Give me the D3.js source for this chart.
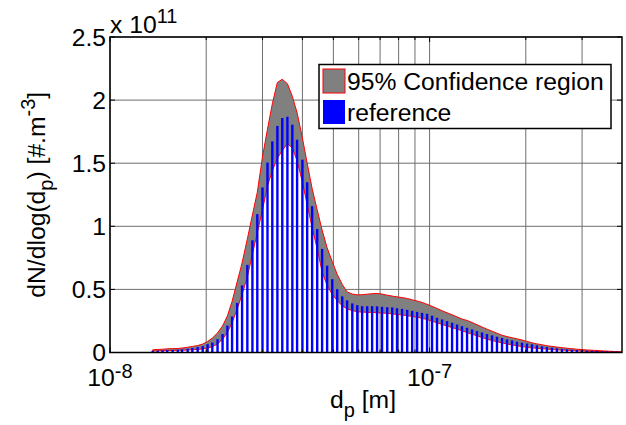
<!DOCTYPE html>
<html>
<head>
<meta charset="utf-8">
<script src="https://cdn.jsdelivr.net/npm/d3@7"></script>
<style>
html,body{margin:0;padding:0;background:#fff;}
svg{display:block;font-family:"Liberation Sans",Arial,Helvetica,sans-serif;}
</style>
</head>
<body>
<svg id="chart" width="626" height="425"></svg>
<script>
// particle diameters (nm), 64 channels per decade
const diameters = [13.6,14.1,14.6,15.1,15.7,16.3,16.8,17.5,18.1,18.8,19.5,20.2,20.9,21.7,22.5,23.3,24.1,25.0,25.9,26.9,
27.9,28.9,30.0,31.1,32.2,33.4,34.6,35.9,37.2,38.5,40.0,41.4,42.9,44.5,46.1,47.8,49.6,51.4,53.3,55.2,
57.3,59.4,61.5,63.8,66.1,68.5,71.0,73.7,76.4,79.1,82.0,85.1,88.2,91.4,94.7,98.2,101.8,105.5,109.4,113.4,
117.6,121.9,126.3,131.0,135.8,140.7,145.9,151.2,156.8,162.5,168.5,174.7,181.1,187.7,194.6,201.7,209.1,216.7,224.7,232.9,
241.4,250.3,259.5,269.0,278.8,289.0,299.6,310.6,322.0,333.8,346.0,358.7,371.8,385.4,399.5];

// reference distribution dN/dlog(dp), units of 1e11 #/m^3
const reference = [0.013,0.015,0.017,0.019,0.021,0.023,0.025,0.030,0.036,0.043,0.051,0.066,0.079,0.106,0.146,0.213,0.285,0.393,0.532,0.694,
0.889,1.096,1.308,1.505,1.673,1.795,1.858,1.868,1.805,1.686,1.528,1.349,1.160,0.978,0.821,0.688,0.581,0.502,0.445,0.413,
0.389,0.375,0.367,0.367,0.367,0.366,0.362,0.359,0.357,0.351,0.346,0.338,0.330,0.322,0.314,0.307,0.291,0.275,0.262,0.249,
0.236,0.222,0.209,0.196,0.183,0.170,0.159,0.146,0.136,0.125,0.115,0.104,0.096,0.086,0.078,0.071,0.065,0.057,0.049,0.043,
0.038,0.033,0.028,0.025,0.022,0.020,0.017,0.014,0.013,0.012,0.010,0.009,0.008,0.007,0.006];

// 95% confidence bounds, units of 1e11 #/m^3
const upperBound = [0.021,0.024,0.026,0.029,0.031,0.032,0.035,0.042,0.048,0.055,0.067,0.088,0.114,0.155,0.210,0.290,0.405,0.560,0.710,0.900,
1.090,1.270,1.550,1.770,1.970,2.140,2.165,2.130,2.030,1.900,1.700,1.500,1.300,1.130,0.970,0.830,0.720,0.620,0.540,0.480,
0.463,0.457,0.458,0.462,0.466,0.468,0.463,0.454,0.447,0.441,0.435,0.428,0.418,0.408,0.397,0.382,0.366,0.349,0.331,0.315,
0.299,0.282,0.265,0.254,0.238,0.220,0.202,0.185,0.169,0.153,0.137,0.126,0.117,0.108,0.099,0.088,0.077,0.068,0.061,0.054,
0.048,0.043,0.038,0.034,0.030,0.026,0.023,0.020,0.018,0.016,0.013,0.011,0.009,0.007,0.006];

const lowerBound = [0.012,0.013,0.014,0.015,0.016,0.017,0.018,0.020,0.022,0.024,0.028,0.036,0.045,0.068,0.105,0.160,0.235,0.345,0.460,0.600,
0.780,0.950,1.130,1.320,1.440,1.540,1.600,1.655,1.620,1.520,1.350,1.170,0.990,0.820,0.640,0.530,0.460,0.410,0.370,0.345,
0.332,0.323,0.320,0.318,0.317,0.315,0.313,0.310,0.306,0.302,0.297,0.292,0.286,0.280,0.271,0.261,0.248,0.236,0.222,0.210,
0.197,0.185,0.172,0.158,0.145,0.132,0.119,0.105,0.095,0.086,0.076,0.068,0.060,0.053,0.047,0.041,0.037,0.033,0.030,0.027,
0.024,0.021,0.019,0.017,0.015,0.013,0.012,0.010,0.009,0.008,0.007,0.006,0.005,0.004,0.004];

const yTicks = [0, 0.5, 1, 1.5, 2, 2.5];
const yTickLabels = ["0", "0.5", "1", "1.5", "2", "2.5"];
const xMajorTicks = [1e-8, 1e-7];
const xMajorExp = ["-8", "-7"];
const xMinorTicks = [2e-8,3e-8,4e-8,5e-8,6e-8,7e-8,8e-8,9e-8,2e-7,3e-7];
const legendLabels = ["95% Confidence region", "reference"];

const svg = d3.select("#chart");
const L = 110, R = 622, T = 37, B = 352.5;
const x = d3.scaleLog().domain([1e-8, 4e-7]).range([L, R]);
const y = d3.scaleLinear().domain([0, 2.5]).range([B, T]);
const FS = 24.7, FSS = 20;

svg.append("rect").attr("width", 626).attr("height", 425).attr("fill", "#fff");

svg.append("defs").append("clipPath").attr("id", "clip")
  .append("rect").attr("x", L).attr("y", T).attr("width", R - L).attr("height", B - T);

// grid
const grid = svg.append("g").attr("stroke", "#6e6e6e").attr("stroke-width", 1);
xMinorTicks.concat(xMajorTicks).forEach(v => {
  grid.append("line").attr("x1", x(v)).attr("x2", x(v)).attr("y1", T).attr("y2", B);
});
yTicks.forEach(v => {
  grid.append("line").attr("x1", L).attr("x2", R).attr("y1", y(v)).attr("y2", y(v));
});

const plot = svg.append("g").attr("clip-path", "url(#clip)");

// confidence region
const pts = diameters.map((d, i) => [x(d * 1e-9), y(upperBound[i])])
  .concat(diameters.map((d, i) => [x(d * 1e-9), y(lowerBound[i])]).reverse());
plot.append("path")
  .attr("d", d3.line()(pts) + "Z")
  .attr("fill", "#808080")
  .attr("stroke", "#ff0000")
  .attr("stroke-width", 1)
  .attr("stroke-linejoin", "round");

// reference bars
const bw = 2.4;
plot.selectAll("rect.bar").data(diameters).enter().append("rect")
  .attr("class", "bar")
  .attr("x", d => x(d * 1e-9) - bw / 2)
  .attr("width", bw)
  .attr("y", (d, i) => y(reference[i]))
  .attr("height", (d, i) => y(0) - y(reference[i]))
  .attr("fill", "#0000ff");

// axes box + ticks
const ax = svg.append("g").attr("stroke", "#000");
ax.append("rect").attr("x", L).attr("y", T).attr("width", R - L).attr("height", B - T)
  .attr("fill", "none").attr("stroke-width", 1.5);
yTicks.forEach(v => {
  ax.append("line").attr("x1", L).attr("x2", L + 5).attr("y1", y(v)).attr("y2", y(v)).attr("stroke-width", 1);
  ax.append("line").attr("x1", R).attr("x2", R - 5).attr("y1", y(v)).attr("y2", y(v)).attr("stroke-width", 1);
});
xMajorTicks.forEach(v => {
  ax.append("line").attr("x1", x(v)).attr("x2", x(v)).attr("y1", B).attr("y2", B - 5).attr("stroke-width", 1);
  ax.append("line").attr("x1", x(v)).attr("x2", x(v)).attr("y1", T).attr("y2", T + 5).attr("stroke-width", 1);
});
xMinorTicks.forEach(v => {
  ax.append("line").attr("x1", x(v)).attr("x2", x(v)).attr("y1", B).attr("y2", B - 3).attr("stroke-width", 1);
  ax.append("line").attr("x1", x(v)).attr("x2", x(v)).attr("y1", T).attr("y2", T + 3).attr("stroke-width", 1);
});

// y tick labels
yTicks.forEach((v, i) => {
  svg.append("text").attr("x", L - 4).attr("y", y(v)).attr("dy", "0.35em")
    .attr("text-anchor", "end").attr("font-size", FS).text(yTickLabels[i]);
});

// x tick labels
xMajorTicks.forEach((v, i) => {
  const t = svg.append("text").attr("x", x(v)).attr("y", 386).attr("text-anchor", "middle").attr("font-size", FS);
  t.append("tspan").text("10");
  t.append("tspan").attr("dy", -8).attr("font-size", FSS).text(xMajorExp[i]);
});

// exponent multiplier
const m = svg.append("text").attr("x", L).attr("y", 33).attr("font-size", FS);
m.append("tspan").text("x 10");
m.append("tspan").attr("dy", -10).attr("font-size", FSS).text("11");

// x label
const xl = svg.append("text").attr("x", (L + R) / 2 - 3).attr("y", 408).attr("text-anchor", "middle").attr("font-size", FS);
xl.append("tspan").text("d");
xl.append("tspan").attr("dy", 9).attr("font-size", FSS).text("p");
xl.append("tspan").attr("dy", -9).text(" [m]");

// y label
const yl = svg.append("text").attr("transform", `translate(45,${(T + B) / 2}) rotate(-90)`)
  .attr("text-anchor", "middle").attr("font-size", FS);
yl.append("tspan").text("dN/dlog(d");
yl.append("tspan").attr("dy", 8).attr("font-size", FSS).text("p");
yl.append("tspan").attr("dy", -8).text(") [#.m");
yl.append("tspan").attr("dy", -10).attr("font-size", FSS).text("-3");
yl.append("tspan").attr("dy", 10).text("]");

// legend
const lg = svg.append("g");
lg.append("rect").attr("x", 319).attr("y", 64.5).attr("width", 292).attr("height", 64)
  .attr("fill", "#fff").attr("stroke", "#000").attr("stroke-width", 1.5);
lg.append("rect").attr("x", 323).attr("y", 69).attr("width", 22).attr("height", 24)
  .attr("fill", "#808080").attr("stroke", "#ff0000").attr("stroke-width", 1);
lg.append("rect").attr("x", 323).attr("y", 100).attr("width", 22).attr("height", 24)
  .attr("fill", "#0000ff");
lg.append("text").attr("x", 347).attr("y", 90).attr("font-size", FS).text(legendLabels[0]);
lg.append("text").attr("x", 347).attr("y", 121).attr("font-size", FS).text(legendLabels[1]);
</script>
</body>
</html>
